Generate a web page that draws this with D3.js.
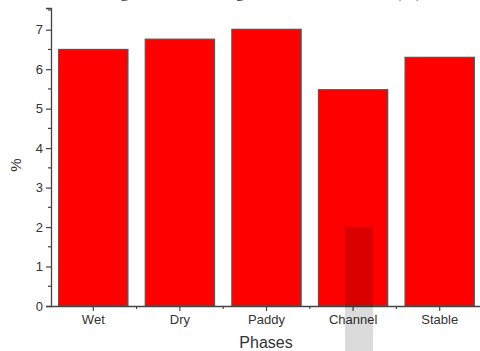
<!DOCTYPE html>
<html>
<head>
<meta charset="utf-8">
<script src="https://cdn.jsdelivr.net/npm/d3@7"></script>
<style>
  html, body { margin: 0; padding: 0; background: #fff; }
  svg { display: block; }
</style>
</head>
<body>
<svg id="chart" width="480" height="351"></svg>
<script>
const categories = ["Wet", "Dry", "Paddy", "Channel", "Stable"];
const values = [6.50, 6.76, 7.01, 5.48, 6.30];
const yTicks = [0, 1, 2, 3, 4, 5, 6, 7];
const yMinorTicks = [0.5, 1.5, 2.5, 3.5, 4.5, 5.5, 6.5, 7.5];
const titleText = "Percentage of total during the different Phases (%)";
const xTitle = "Phases";
const yTitle = "%";

const svg = d3.select("#chart");
const W = 480, H = 351;
const axisX = 51, axisY = 306;

const x = d3.scaleBand().domain(categories).range([50, 483]).paddingInner(0.2).paddingOuter(0.1);
const y = d3.scaleLinear().domain([0, 7.55]).range([axisY, 8]);

// cut-off title at the very top (only descenders visible, as in the reference)
svg.append("text")
  .attr("x", 240).attr("y", -3.5)
  .attr("text-anchor", "middle")
  .attr("font-family", "Liberation Serif, Times New Roman, serif")
  .attr("font-size", 18).attr("fill", "#333")
  .text(titleText);

// bars
svg.append("g").selectAll("rect")
  .data(categories)
  .join("rect")
  .attr("x", d => x(d))
  .attr("y", (d, i) => y(values[i]))
  .attr("width", x.bandwidth())
  .attr("height", (d, i) => axisY - y(values[i]))
  .attr("fill", "#ff0000")
  .attr("stroke", "#555")
  .attr("stroke-width", 1.2);

const tickColor = "#444";
// y axis
const yAxis = d3.axisLeft(y).tickValues(yTicks).tickFormat(d3.format("d")).tickSizeOuter(0).tickSize(5).tickPadding(3);
const gy = svg.append("g").attr("transform", `translate(${axisX},0)`).call(yAxis);
gy.select(".domain").attr("stroke", tickColor).attr("stroke-width", 1.3);
gy.selectAll(".tick line").attr("stroke", tickColor).attr("stroke-width", 1.2);
gy.selectAll(".tick text").attr("font-family", "Liberation Sans, Arial, sans-serif").attr("font-size", 13).attr("fill", "#333");
gy.selectAll(".minor").data(yMinorTicks).join("line")
  .attr("class", "minor")
  .attr("x1", -3).attr("x2", 0)
  .attr("y1", d => y(d)).attr("y2", d => y(d))
  .attr("stroke", tickColor).attr("stroke-width", 1.2);

// x axis
const xAxis = d3.axisBottom(x).tickSizeOuter(0).tickSize(5).tickPadding(4);
const gx = svg.append("g").attr("transform", `translate(0,${axisY})`).call(xAxis);
gx.select(".domain").attr("d", `M${axisX},0.5H${W}`).attr("stroke", tickColor).attr("stroke-width", 1.3);
gx.selectAll(".tick line").attr("stroke", tickColor).attr("stroke-width", 1.2);
gx.selectAll(".tick text").attr("font-family", "Liberation Sans, Arial, sans-serif").attr("font-size", 13).attr("fill", "#333");
const boundaries = categories.slice(1).map(c => x(c) - x.step() * x.paddingInner() / 2);
gx.selectAll(".minor").data(boundaries).join("line")
  .attr("class", "minor")
  .attr("x1", d => d).attr("x2", d => d)
  .attr("y1", 0).attr("y2", 3)
  .attr("stroke", tickColor).attr("stroke-width", 1.2);

// axis titles
svg.append("text")
  .attr("x", 266).attr("y", 348)
  .attr("text-anchor", "middle")
  .attr("font-family", "Liberation Sans, Arial, sans-serif")
  .attr("font-size", 16).attr("fill", "#333")
  .text(xTitle);
svg.append("text")
  .attr("transform", "translate(21,165) rotate(-90)")
  .attr("text-anchor", "middle")
  .attr("font-family", "Liberation Sans, Arial, sans-serif")
  .attr("font-size", 15).attr("fill", "#333")
  .text(yTitle);

// translucent gray overlay (present in the reference image)
svg.append("rect")
  .attr("x", 345).attr("y", 227)
  .attr("width", 28).attr("height", H - 227)
  .attr("fill", "#000").attr("fill-opacity", 0.14);
</script>
</body>
</html>
